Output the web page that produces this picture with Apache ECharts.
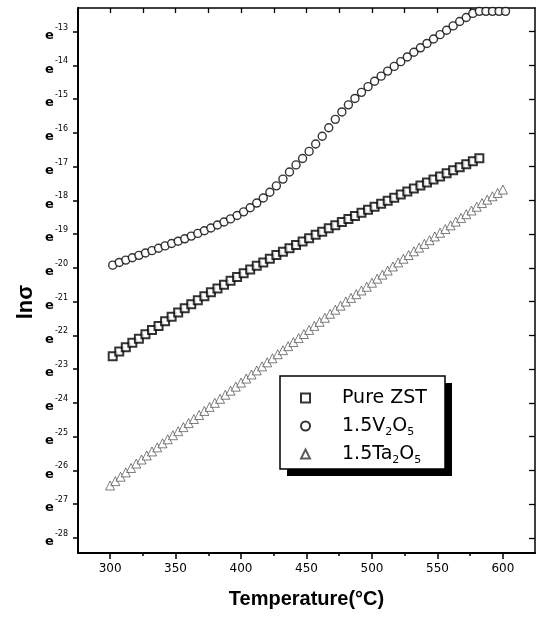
<!DOCTYPE html>
<html>
<head>
<meta charset="utf-8">
<script src="https://cdn.jsdelivr.net/npm/echarts@6/dist/echarts.min.js"></script>
<style>
html,body{margin:0;padding:0;background:#fff;}
#chart{width:537px;height:624px;}
</style>
</head>
<body>
<div id="chart"></div>
<script>
// ---- data ----
var seriesNames = ['Pure ZST', '1.5V2O5', '1.5Ta2O5'];

var tempsZST = [302,307,312,317,322,327,332,337,342,347,352,357,362,367,372,377,382,387,392,397,
  402,407,412,417,422,427,432,437,442,447,452,457,462,467,472,477,482,487,492,497,
  502,507,512,517,522,527,532,537,542,547,552,557,562,567,572,577,582];
var lnZST = [-22.62,-22.48,-22.35,-22.22,-22.10,-21.97,-21.84,-21.72,-21.58,-21.45,
  -21.32,-21.20,-21.08,-20.96,-20.84,-20.72,-20.61,-20.50,-20.38,-20.27,
  -20.16,-20.05,-19.94,-19.84,-19.73,-19.62,-19.52,-19.42,-19.32,-19.22,
  -19.12,-19.02,-18.93,-18.83,-18.74,-18.64,-18.55,-18.46,-18.37,-18.28,
  -18.19,-18.10,-18.01,-17.92,-17.83,-17.74,-17.65,-17.56,-17.47,-17.38,
  -17.29,-17.20,-17.11,-17.02,-16.93,-16.84,-16.75];

var tempsV = [302,307,312,317,322,327,332,337,342,347,352,357,362,367,372,377,382,387,392,397,
  402,407,412,417,422,427,432,437,442,447,452,457,462,467,472,477,482,487,492,497,
  502,507,512,517,522,527,532,537,542,547,552,557,562,567,572,577,582,587,592,597,602];
var lnV = [-19.92,-19.84,-19.77,-19.70,-19.63,-19.56,-19.49,-19.42,-19.35,-19.28,
  -19.21,-19.14,-19.06,-18.98,-18.90,-18.82,-18.73,-18.64,-18.55,-18.45,
  -18.34,-18.22,-18.08,-17.93,-17.76,-17.57,-17.37,-17.16,-16.95,-16.76,
  -16.55,-16.33,-16.10,-15.85,-15.60,-15.38,-15.17,-14.98,-14.80,-14.63,
  -14.47,-14.32,-14.17,-14.03,-13.89,-13.75,-13.61,-13.48,-13.35,-13.22,
  -13.09,-12.96,-12.83,-12.70,-12.58,-12.46,-12.40,-12.40,-12.40,-12.40,-12.40];

var tempsTa = [300,304,308,312,316,320,324,328,332,336,340,344,348,352,356,360,364,368,372,376,
  380,384,388,392,396,400,404,408,412,416,420,424,428,432,436,440,444,448,452,456,
  460,464,468,472,476,480,484,488,492,496,500,504,508,512,516,520,524,528,532,536,
  540,544,548,552,556,560,564,568,572,576,580,584,588,592,596,600];
var lnTa = [-26.45,-26.32,-26.19,-26.06,-25.93,-25.80,-25.68,-25.56,-25.44,-25.32,
  -25.20,-25.08,-24.96,-24.84,-24.72,-24.60,-24.48,-24.36,-24.24,-24.12,
  -24.00,-23.88,-23.76,-23.64,-23.52,-23.40,-23.28,-23.16,-23.04,-22.92,
  -22.80,-22.68,-22.56,-22.44,-22.32,-22.20,-22.08,-21.96,-21.84,-21.72,
  -21.60,-21.48,-21.36,-21.24,-21.12,-21.00,-20.89,-20.78,-20.67,-20.56,
  -20.44,-20.32,-20.20,-20.08,-19.96,-19.84,-19.73,-19.62,-19.51,-19.40,
  -19.29,-19.18,-19.07,-18.96,-18.85,-18.74,-18.63,-18.52,-18.41,-18.30,
  -18.19,-18.08,-17.98,-17.88,-17.78,-17.68];

var xMajorTicks = [300,350,400,450,500,550,600];
var xMinorTicks = [325,375,425,475,525,575];
var xTopTicks = [300,325,350,375,400,425,450,475,500,525,550,575,600];
var yTicks = [-28,-27,-26,-25,-24,-23,-22,-21,-20,-19,-18,-17,-16,-15,-14,-13];

function pairs(xs, ys){ var o=[]; for (var i=0;i<ys.length;i++) o.push([xs[i], ys[i]]); return o; }

var XMIN = 275.5, XMAX = 624.5, YMIN = -28.45, YMAX = -12.3;
var labelFont = 'DejaVu Sans';

var chart = echarts.init(document.getElementById('chart'), null, {renderer:'canvas'});
var option = {
  backgroundColor: '#fff',
  animation: false,
  grid: {left: 78, right: 2, top: 8, bottom: 71, containLabel: false, outerBoundsMode: 'none'},
  xAxis: [
    {type:'value', position:'bottom', min:XMIN, max:XMAX,
     name:'Temperature(°C)', nameLocation:'middle', nameGap:36,
     nameTextStyle:{fontFamily:'Liberation Sans', fontWeight:'bold', fontSize:20, color:'#000'},
     axisLine:{show:true, lineStyle:{color:'#000', width:2}},
     axisTick:{show:true, inside:false, length:6, customValues:xMajorTicks, lineStyle:{color:'#000', width:1.5}},
     axisLabel:{show:true, customValues:xMajorTicks, margin:10, fontFamily:labelFont, fontSize:12, color:'#000'},
     splitLine:{show:false}},
    {type:'value', position:'bottom', min:XMIN, max:XMAX,
     axisLine:{show:false},
     axisTick:{show:true, inside:false, length:3, customValues:xMinorTicks, lineStyle:{color:'#000', width:1.5}},
     axisLabel:{show:false}, splitLine:{show:false}},
    {type:'value', position:'top', min:XMIN, max:XMAX,
     axisLine:{show:true, lineStyle:{color:'#000', width:1.5}},
     axisTick:{show:true, inside:true, length:5, customValues:xTopTicks, lineStyle:{color:'#000', width:1.3}},
     axisLabel:{show:false}, splitLine:{show:false}}
  ],
  yAxis: [
    {type:'value', position:'left', min:YMIN, max:YMAX,
     axisLine:{show:true, lineStyle:{color:'#000', width:2}},
     axisTick:{show:true, inside:false, length:5, customValues:yTicks, lineStyle:{color:'#000', width:1.5}},
     axisLabel:{show:true, customValues:yTicks, margin:10,
       formatter:function(v){ return '{e|e}{s|' + Math.round(v) + '}'; },
       rich:{
         e:{fontFamily:labelFont, fontWeight:'bold', fontSize:13, lineHeight:16, padding:[8,0,0,0], color:'#000'},
         s:{fontFamily:labelFont, fontSize:8, lineHeight:8, padding:[4,0,12,1], color:'#000'}
       }},
     splitLine:{show:false}},
    {type:'value', position:'right', min:YMIN, max:YMAX,
     axisLine:{show:true, lineStyle:{color:'#000', width:1.5}},
     axisTick:{show:true, inside:true, length:6, customValues:yTicks, lineStyle:{color:'#000', width:1.3}},
     axisLabel:{show:false}, splitLine:{show:false}}
  ],
  legend: {
    orient:'vertical', left:300, top:386, itemWidth:9, itemHeight:9, itemGap:4,
    padding:0, z:5,
    data: seriesNames,
    formatter:function(name){
      if (name === '1.5V2O5') return '1.5V{sub|2}O{sub|5}';
      if (name === '1.5Ta2O5') return '1.5Ta{sub|2}O{sub|5}';
      return name;
    },
    textStyle:{fontFamily:labelFont, fontSize:19, lineHeight:24, color:'#000', padding:[0,0,0,27],
      rich:{ sub:{fontFamily:labelFont, fontSize:11, lineHeight:11, padding:[13,0,0,0], color:'#000'} }}
  },
  graphic: [
    {type:'rect', z:3, shape:{x:287, y:383, width:165, height:93}, style:{fill:'#000'}},
    {type:'rect', z:4, shape:{x:280, y:376, width:165, height:93}, style:{fill:'#fff', stroke:'#000', lineWidth:1.5}},
    {type:'text', z:5, x:26, y:302, rotation:Math.PI/2,
     style:{text:'lnσ', fontFamily:'Liberation Sans', fontWeight:'bold', fontSize:22, fill:'#000', align:'center', verticalAlign:'middle'}}
  ],
  series: [
    {name:seriesNames[0], type:'scatter', xAxisIndex:0, yAxisIndex:0, symbol:'rect', symbolSize:8,
     itemStyle:{color:'#fff', borderColor:'#000', borderWidth:2}, data:pairs(tempsZST, lnZST)},
    {name:seriesNames[1], type:'scatter', xAxisIndex:0, yAxisIndex:0, symbol:'circle', symbolSize:8,
     itemStyle:{color:'#fff', borderColor:'#000', borderWidth:1.4}, data:pairs(tempsV, lnV)},
    {name:seriesNames[2], type:'scatter', xAxisIndex:0, yAxisIndex:0, symbol:'triangle', symbolSize:9,
     itemStyle:{color:'#fff', borderColor:'#333', borderWidth:0.8}, data:pairs(tempsTa, lnTa)}
  ]
};
chart.setOption(option);
</script>
</body>
</html>
